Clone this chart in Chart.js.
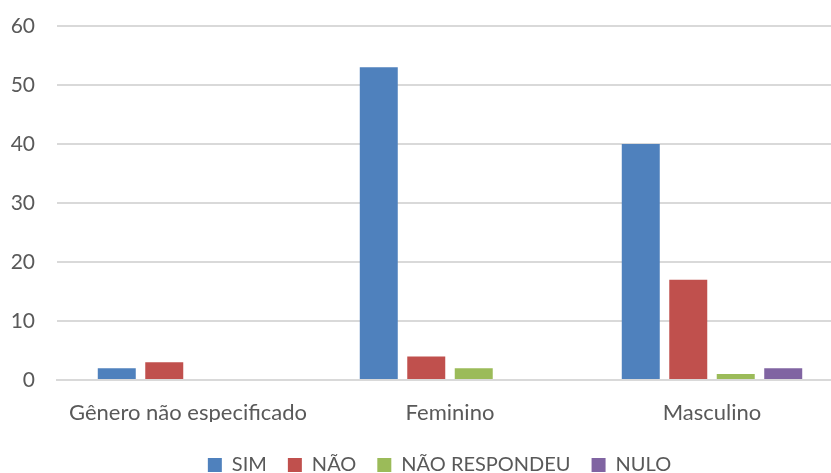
<!DOCTYPE html>
<html>
<head>
<meta charset="utf-8">
<script src="https://cdn.jsdelivr.net/npm/chart.js@4"></script>
<style>
  html, body { margin: 0; padding: 0; background: #fff; overflow: hidden; }
  #wrap { width: 843px; height: 473px; position: relative; }
</style>
</head>
<body>
<div id="wrap"><canvas id="c"></canvas></div>
<script>
// Respostas por gênero
const categories = ['Gênero não especificado', 'Feminino', 'Masculino'];
const simValues = [2, 53, 40];
const naoValues = [3, 4, 17];
const naoRespondeuValues = [0, 2, 1];
const nuloValues = [0, 0, 2];
const yTicks = [0, 10, 20, 30, 40, 50, 60];

const textColor = '#595959';
const fontFamily = 'Lato, "Noto Sans", sans-serif';

const makeSet = (label, data, color) => ({
  label, data,
  backgroundColor: color,
  borderColor: color,
  borderWidth: 0,
  categoryPercentage: 0.725,
  barPercentage: 0.8
});

// Move the legend block right and down a little after layout
const legendShift = {
  id: 'legendShift',
  afterLayout(chart) {
    const lg = chart.legend;
    if (!lg) return;
    lg.left += 18; lg.right += 18;
    lg.top += 12; lg.bottom += 12;
  }
};

new Chart(document.getElementById('c'), {
  type: 'bar',
  data: {
    labels: categories,
    datasets: [
      makeSet('SIM', simValues, '#4F81BD'),
      makeSet('NÃO', naoValues, '#C0504D'),
      makeSet('NÃO RESPONDEU', naoRespondeuValues, '#9BBB59'),
      makeSet('NULO', nuloValues, '#8064A2')
    ]
  },
  plugins: [legendShift],
  options: {
    responsive: true,
    maintainAspectRatio: false,
    animation: false,
    layout: { padding: { left: 0, right: 0, top: 26, bottom: 0 } },
    plugins: {
      tooltip: { enabled: false },
      legend: {
        position: 'bottom',
        labels: {
          boxWidth: 14,
          boxHeight: 14,
          padding: 21,
          color: textColor,
          font: { family: fontFamily, size: 20 }
        }
      }
    },
    scales: {
      x: {
        grid: { display: false, drawTicks: false },
        border: { display: true, color: '#d9d9d9', width: 2 },
        ticks: {
          color: textColor,
          padding: 20,
          maxRotation: 0,
          font: { family: fontFamily, size: 22 }
        },
        afterFit: s => { s.height = 42; s.paddingLeft = 0; s.paddingRight = 0; }
      },
      y: {
        min: 0,
        max: 60,
        afterBuildTicks: s => { s.ticks = yTicks.map(v => ({ value: v })); },
        grid: { color: '#d9d9d9', lineWidth: 2, drawTicks: false },
        border: { display: false },
        ticks: {
          color: textColor,
          padding: 22,
          font: { family: fontFamily, size: 21 }
        },
        afterFit: s => { s.width = 57; s.paddingTop = 0; s.paddingBottom = 0; }
      }
    }
  }
});
</script>
</body>
</html>
